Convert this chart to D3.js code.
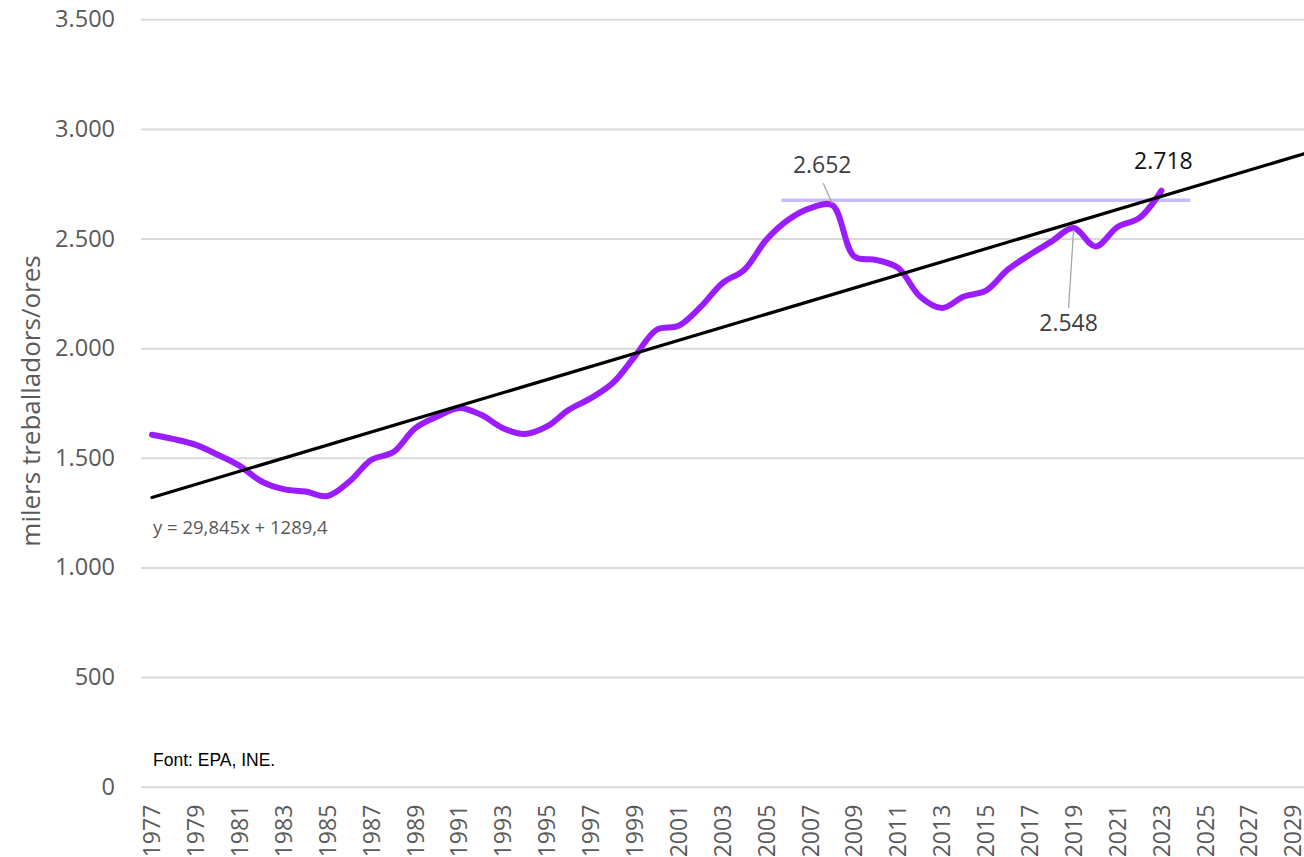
<!DOCTYPE html>
<html>
<head>
<meta charset="utf-8">
<script src="https://cdn.jsdelivr.net/npm/d3@7"></script>
<style>
  body { margin: 0; background: #fff; }
  svg { display: block; font-family: 'Open Sans', 'Noto Sans', sans-serif; }
</style>
</head>
<body>
<svg id="chart" width="1304" height="857"></svg>
<script>
// axis categories (Excel-style category axis, runs past the data)
const categories = ['1977','1978','1979','1980','1981','1982','1983','1984','1985','1986',
  '1987','1988','1989','1990','1991','1992','1993','1994','1995','1996','1997','1998',
  '1999','2000','2001','2002','2003','2004','2005','2006','2007','2008','2009','2010',
  '2011','2012','2013','2014','2015','2016','2017','2018','2019','2020','2021','2022',
  '2023','2024','2025','2026','2027','2028','2029'];

const years = ['1977','1978','1979','1980','1981','1982','1983','1984','1985','1986',
  '1987','1988','1989','1990','1991','1992','1993','1994','1995','1996','1997','1998',
  '1999','2000','2001','2002','2003','2004','2005','2006','2007','2008','2009','2010',
  '2011','2012','2013','2014','2015','2016','2017','2018','2019','2020','2021','2022','2023'];

// thousands of workers
const workers = [1605,1585,1559,1514,1463,1392,1357,1346,1326,1392,
  1491,1526,1635,1688,1727,1696,1635,1609,1643,1719,1772,1841,
  1962,2084,2102,2188,2297,2358,2495,2586,2639,2652,2419,2403,
  2366,2236,2183,2236,2262,2358,2426,2487,2548,2464,2553,2594,2718];

const yTicks = [0, 500, 1000, 1500, 2000, 2500, 3000, 3500];

// linear trend given by the spreadsheet (x = 1 for 1977)
const trendSlope = 29.845;
const trendIntercept = 1289.4;
const trendText = 'y = 29,845x + 1289,4';

// reference level drawn as a pale horizontal line
const refLevel = 2675;
const refFrom = '2006';
const refTo = '2024';

const callouts = [
  { year: '2008', value: 2652, label: '2.652' },
  { year: '2019', value: 2548, label: '2.548' },
  { year: '2023', value: 2718, label: '2.718' }
];

const yTitle = 'milers treballadors/ores';
const sourceText = 'Font: EPA, INE.';

///////////////////////////////////////////////////////////////
const width = 1304, height = 857;
const margin = { top: 19.3, right: 0, bottom: 70.3, left: 141 };

const locale = d3.formatLocale({ decimal: ',', thousands: '.', grouping: [3], currency: ['', '€'] });
const fmt = locale.format(',');

const svg = d3.select('#chart');

const x = d3.scaleBand()
    .domain(categories)
    .range([margin.left, width - margin.right])
    .padding(0);
const cx = d => x(d) + x.bandwidth() / 2;

const y = d3.scaleLinear()
    .domain([0, 3500])
    .range([height - margin.bottom, margin.top]);

// gridlines + y labels
const yAxis = svg.append('g')
    .attr('transform', 'translate(' + margin.left + ',0)')
    .call(d3.axisLeft(y)
      .tickValues(yTicks)
      .tickFormat(fmt)
      .tickSize(-(width - margin.left - margin.right))
      .tickPadding(26));
yAxis.select('.domain').remove();
yAxis.selectAll('line').attr('stroke', '#d9d9d9').attr('stroke-width', 2);
yAxis.selectAll('text')
    .attr('fill', '#595959')
    .style('font-size', '23.5px')
    .style('font-family', "'Open Sans', sans-serif");

// x labels, every second year, rotated
const xAxis = svg.append('g')
    .attr('transform', 'translate(0,' + y(0) + ')')
    .call(d3.axisBottom(x)
      .tickValues(categories.filter((d, i) => i % 2 === 0))
      .tickSize(0));
xAxis.select('.domain').remove();
xAxis.selectAll('text')
    .attr('transform', 'rotate(-90)')
    .attr('x', -18)
    .attr('y', 0)
    .attr('dy', '0.36em')
    .style('text-anchor', 'end')
    .attr('fill', '#595959')
    .style('font-size', '23px')
    .style('font-family', "'Open Sans', sans-serif");

// axis title
svg.append('text')
    .attr('transform', 'translate(40,' + 401 + ') rotate(-90)')
    .attr('text-anchor', 'middle')
    .attr('fill', '#595959')
    .style('font-size', '26px')
    .text(yTitle);

// pale reference line
svg.append('line')
    .attr('x1', cx(refFrom) - x.bandwidth() * 0.32)
    .attr('x2', cx(refTo) + x.bandwidth() * 0.32)
    .attr('y1', y(refLevel))
    .attr('y2', y(refLevel))
    .attr('stroke', '#cbbafc')
    .attr('stroke-width', 3.5);

// data line
const series = years.map((d, i) => ({ year: d, value: workers[i] }));
const line = d3.line()
    .x(d => cx(d.year))
    .y(d => y(d.value))
    .curve(d3.curveCatmullRom.alpha(0.5));

svg.append('path')
    .datum(series)
    .attr('fill', 'none')
    .attr('stroke', '#9a1cff')
    .attr('stroke-width', 6)
    .attr('stroke-linecap', 'round')
    .attr('stroke-linejoin', 'round')
    .attr('d', line);

// trend line, from first category to the right edge
const xIdx = d3.scaleLinear().domain([1, categories.length]).range([cx(categories[0]), cx(categories[categories.length - 1])]);
const tEnd = xIdx.invert(width - margin.right);
svg.append('line')
    .attr('x1', xIdx(1)).attr('y1', y(trendSlope * 1 + trendIntercept))
    .attr('x2', xIdx(tEnd)).attr('y2', y(trendSlope * tEnd + trendIntercept))
    .attr('stroke', '#000')
    .attr('stroke-width', 3.2)
    .attr('stroke-linecap', 'round');

svg.append('text')
    .attr('x', 153)
    .attr('y', 534)
    .attr('fill', '#595959')
    .style('font-size', '18.5px')
    .text(trendText);

// callouts
const c0 = callouts[0], c1 = callouts[1], c2 = callouts[2];
svg.append('line')
    .attr('x1', cx(c0.year) - 9).attr('y1', y(c0.value) - 22)
    .attr('x2', cx(c0.year)).attr('y2', y(c0.value) - 2)
    .attr('stroke', '#a6a6a6').attr('stroke-width', 1.3);
svg.append('text')
    .attr('x', cx(c0.year) - 10).attr('y', y(c0.value) - 32)
    .attr('text-anchor', 'middle')
    .attr('fill', '#404040')
    .style('font-size', '23px')
    .text(c0.label);

svg.append('line')
    .attr('x1', cx(c1.year)).attr('y1', y(c1.value) + 2)
    .attr('x2', cx(c1.year) - 5).attr('y2', y(c1.value) + 80)
    .attr('stroke', '#a6a6a6').attr('stroke-width', 1.3);
svg.append('text')
    .attr('x', cx(c1.year) - 5).attr('y', y(c1.value) + 103)
    .attr('text-anchor', 'middle')
    .attr('fill', '#404040')
    .style('font-size', '23px')
    .text(c1.label);

svg.append('text')
    .attr('x', cx(c2.year) + 2).attr('y', y(c2.value) - 22)
    .attr('text-anchor', 'middle')
    .attr('fill', '#111')
    .style('font-size', '23px')
    .text(c2.label);

// source note
svg.append('text')
    .attr('x', 153)
    .attr('y', 766)
    .attr('fill', '#000')
    .style('font-family', "'Liberation Sans', Arial, sans-serif")
    .style('font-size', '17.5px')
    .text(sourceText);
</script>
</body>
</html>
